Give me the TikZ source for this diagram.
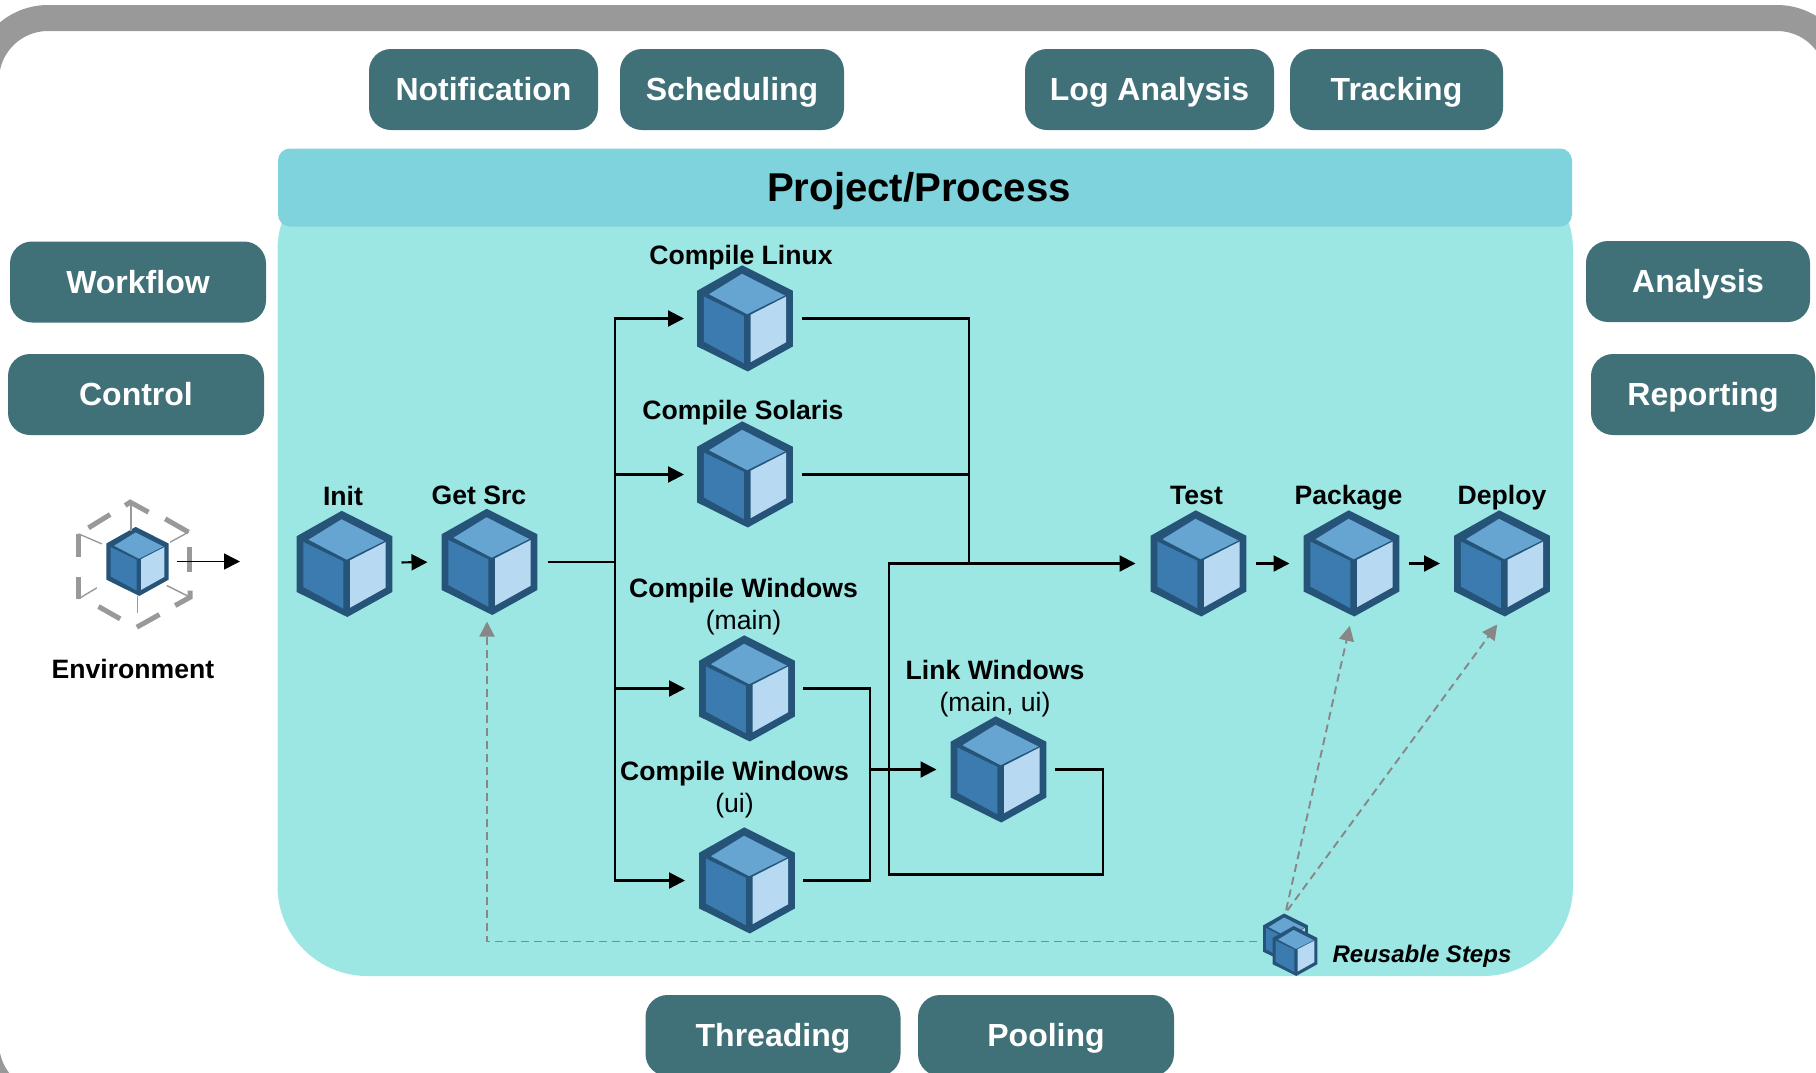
\documentclass[tikz,border=0pt]{standalone}
\usepackage{fontspec}
\setmainfont{Liberation Sans}
\usetikzlibrary{arrows.meta,positioning}

\definecolor{framegray}{HTML}{999999}
\definecolor{serviceteal}{HTML}{417178}
\definecolor{bodyaqua}{HTML}{9CE7E4}
\definecolor{headaqua}{HTML}{7FD3DC}
\definecolor{cubedark}{HTML}{255478}
\definecolor{cubetop}{HTML}{66A5D2}
\definecolor{cubeleft}{HTML}{3C7BAF}
\definecolor{cuberight}{HTML}{B8D9F2}
\definecolor{reusegray}{HTML}{878787}

\begin{document}
\begin{tikzpicture}[
          x = .5pt, y = .5pt, % one unit is one pixel of the layout
          > = {Triangle[length=8pt,width=8pt]}, % arrow head style
          on grid
          ]

          \tikzset{
          service/.style = {
            rectangle, rounded corners = 11pt, fill = serviceteal,
            text = white, font = \fontsize{16}{19}\selectfont\bfseries,
            minimum width = #1, minimum height = 40.5pt, inner sep = 0pt,
            text height = 11pt, text depth = 0pt
          },
          cube/.style = {
            rectangle, inner sep = 0pt, outer sep = 0pt,
            minimum width = 48pt*#1, minimum height = 54.5pt*#1,
            path picture = {
              \begin{scope}[shift = {(path picture bounding box.center)},
                  x = {.5pt*#1}, y = {.5pt*#1}, yshift = -.5pt*#1]
                \fill[cubedark] (-2.8,53.2) -- (47.8,27.8) -- (47.8,-28) -- (2.8,-53)
                  -- (-47.8,-28) -- (-47.8,27.8) -- cycle;
                \fill[cubetop] (-3,44.7) -- (39.8,23) -- (2.2,4.3) -- (-36,24.3) -- cycle;
                \fill[cubeleft] (-41.2,22) -- (-1.2,2.7) -- (-1.2,-44.7) -- (-41.2,-23) -- cycle;
                \fill[cuberight] (5.5,3.7) -- (41.2,22) -- (41.2,-23.7) -- (5.5,-43.7) -- cycle;
              \end{scope}
            }
          },
          cube/.default = 1,
          steptitle/.style = {
            align = center, inner sep = 0pt,
            font = \fontsize{13.3}{16}\selectfont\bfseries
          },
          steplabel/.style = {
            steptitle, text height = 9.5pt, text depth = 0pt
          },
          flow/.style = {black, line width = 1.1pt},
          reuse/.style = {reusegray, line width = .95pt, dash pattern = on 4pt off 2.5pt,
            > = {Triangle[length=7.5pt,width=7.5pt]}},
          envthick/.style = {framegray, line width = 2.5pt},
          envthin/.style = {framegray, line width = .7pt}
          }

          \useasboundingbox (0,0) rectangle (1816,-1072);

          % frame
          \begin{scope}
          \clip (0,0) rectangle (1816,-1072);
          \draw[framegray, line width = 13pt, rounded corners = 31pt]
            (-14,-18) rectangle (1839,-1105);

          % process area
          \node[fill = bodyaqua, rounded corners = 45pt, minimum width = 647.75pt,
            minimum height = 408pt] (body) at (925.25,-568) {};
          \node[fill = headaqua, rounded corners = 6pt, minimum width = 647pt,
            minimum height = 39pt] (header) at (925,-187.5) {};
          \node[inner sep = 0pt, font = \fontsize{20.1}{24}\selectfont\bfseries,
            text height = 14.5pt, text depth = 0pt] (title)
            at (919,-186.5) {Project/Process};

          % services
          \node[service = 114.5pt] (notification) at (483.5,-89.5) {Notification};
          \node[service = 112pt] (scheduling) at (732,-89.5) {Scheduling};
          \node[service = 124.5pt] (loganalysis) at (1149.5,-89.5) {Log Analysis};
          \node[service = 106.5pt] (tracking) at (1396.5,-89.5) {Tracking};
          \node[service = 128pt] (workflow) at (138,-282) {Workflow};
          \node[service = 128pt] (control) at (136,-394.5) {Control};
          \node[service = 112pt] (analysis) at (1698,-281.5) {Analysis};
          \node[service = 112pt] (reporting) at (1703,-394.5) {Reporting};
          \node[service = 127.5pt] (threading) at (773,-1035.5) {Threading};
          \node[service = 128pt] (pooling) at (1046,-1035.5) {Pooling};
          \end{scope}

          % steps
          \node[cube] (init) at (344.5,-564) {};
          \node[cube] (getsrc) [right=72.5pt of init, yshift=1pt] {};
          \node[cube] (linux) at (745,-318.5) {};
          \node[cube] (solaris) [below=78pt of linux] {};
          \node[cube] (winmain) [below=107pt of solaris, xshift=1pt] {};
          \node[cube] (winui) [below=96pt of winmain] {};
          \node[cube] (test) at (1198.5,-563.5) {};
          \node[cube] (package) [right=76.5pt of test] {};
          \node[cube] (deploy) [right=75.25pt of package] {};
          \node[cube] (linkwin) at (998.5,-769.5) {};
          \node[cube = .65] (env) at (137.5,-561.5) {};
          \node[cube = .47] (stepsback) at (1285.5,-938.5) {};
          \node[cube = .47] (stepsfront) at (1295,-951) {};

          % labels
          \node[steplabel] (initlabel) [above=34pt of init, xshift=-.75pt] {Init};
          \node[steplabel] (getsrclabel) [above=33.5pt of getsrc, xshift=-5.25pt] {Get Src};
          \node[steplabel] (linuxlabel) [above=32pt of linux, xshift=-2pt] {Compile Linux};
          \node[steplabel] (solarislabel) [above=32.25pt of solaris, xshift=-1pt] {Compile Solaris};
          \node[steptitle] (winmainlabel) [above=40.7pt of winmain, xshift=-1.75pt]
            {Compile Windows\\\normalfont (main)};
          \node[steptitle] (winuilabel) [above=45.2pt of winui, xshift=-6.25pt]
            {Compile Windows\\\normalfont (ui)};
          \node[steptitle] (linklabel) [above=40.2pt of linkwin, xshift=-1.75pt]
            {Link Windows\\\normalfont (main, ui)};
          \node[steplabel] (testlabel) [above=34.5pt of test, xshift=-1pt] {Test};
          \node[steplabel] (packagelabel) [above=34.5pt of package, xshift=-1.5pt] {Package};
          \node[steplabel] (deploylabel) [above=34.5pt of deploy] {Deploy};
          \node[steplabel] (envlabel) [below=53.5pt of env, xshift=-2.25pt] {Environment};
          \node[steplabel, font = \fontsize{12}{15}\selectfont\bfseries\itshape, text height = 8.6pt] (stepslabel)
            [right=63.5pt of stepsfront, yshift=-1.5pt] {Reusable Steps};

          % environment marks
          \begin{scope}[shift = {(env.center)}, x = .1667pt, y = -.1667pt]
            \draw[envthick] (-37,-168) -- (-22,-178) -- (33,-148);
            \draw[envthick] (-147,-101) -- (-82,-141);
            \draw[envthick] (83,-128) -- (153,-88);
            \draw[envthin] (153,-88) -- (98,-58);
            \draw[envthick] (-177,-13) -- (-177,-83);
            \draw[envthin] (-177,-83) -- (-107,-53);
            \draw[envthick] (156,-43) -- (156,32);
            \draw[envthick] (-177,45) -- (-177,112);
            \draw[envthin] (-177,112) -- (-122,79);
            \draw[envthin] (88,72) -- (158,107);
            \draw[envthick] (158,87) -- (158,107) -- (113,132);
            \draw[envthick] (-117,135) -- (-52,172);
            \draw[envthick] (-2,197) -- (66,159);
            \draw[envthin] (-19,-168) -- (-19,-93);
            \draw[envthin] (0,102) -- (0,155);
          \end{scope}

          % junctions
          \coordinate (envtip) at (240,-561.5);
          \coordinate (trunk) at (615,-562);
          \coordinate (merge) at (969,-563.5);
          \coordinate (winjoin) at (870,-769.5);
          \coordinate (feedback) at (889,-563.5);
          \coordinate (feedcorner) at (1103,-874.5);

          % connectors
          \draw[black, line width = .8pt, ->, shorten <=4pt] (env.east) -- (envtip);
          \draw[flow, ->, shorten <=4.5pt, shorten >=7pt] ([yshift=.75pt]init.east) -- (getsrc.west);
          \draw[flow, shorten <=5pt] (getsrc.east) -- (trunk);
          \draw[flow, ->, shorten >=6.5pt] (trunk) |- (linux.west);
          \draw[flow, ->, shorten >=6.5pt] (trunk) |- (solaris.west);
          \draw[flow, ->, shorten >=7pt] (trunk) |- (winmain.west);
          \draw[flow, ->, shorten >=7pt] (trunk) |- (winui.west);
          \draw[flow, shorten <=4.5pt] (linux.east) -| (merge);
          \draw[flow, shorten <=4.5pt] (solaris.east) -| (merge);
          \draw[flow, ->, shorten >=7.5pt] (merge) -- (test.west);
          \draw[flow, shorten <=4pt] (winmain.east) -| (winjoin);
          \draw[flow, shorten <=4pt] (winui.east) -| (winjoin);
          \draw[flow, ->, shorten >=7pt] (winjoin) -- (linkwin.west);
          \draw[flow, shorten <=4pt] (linkwin.east) -| (feedcorner) -| (feedback) -- (merge);
          \draw[flow, ->, shorten <=4.5pt, shorten >=7pt] (test.east) -- (package.west);
          \draw[flow, ->, shorten <=4.5pt, shorten >=7pt] (package.east) -- (deploy.west);

          \draw[reuse, ->, shorten <=3pt, shorten >=2.5pt]
            ([yshift=-1.5pt]stepsback.west) -| ([xshift=-1.25pt]getsrc.south);
          \draw[reuse, ->, shorten <=1.5pt, shorten >=4pt] (stepsback.north) -- (package.south);
          \draw[reuse, ->, shorten <=1.5pt, shorten >=4pt] (stepsback.north) -- (deploy.south);

\end{tikzpicture}
\end{document}
